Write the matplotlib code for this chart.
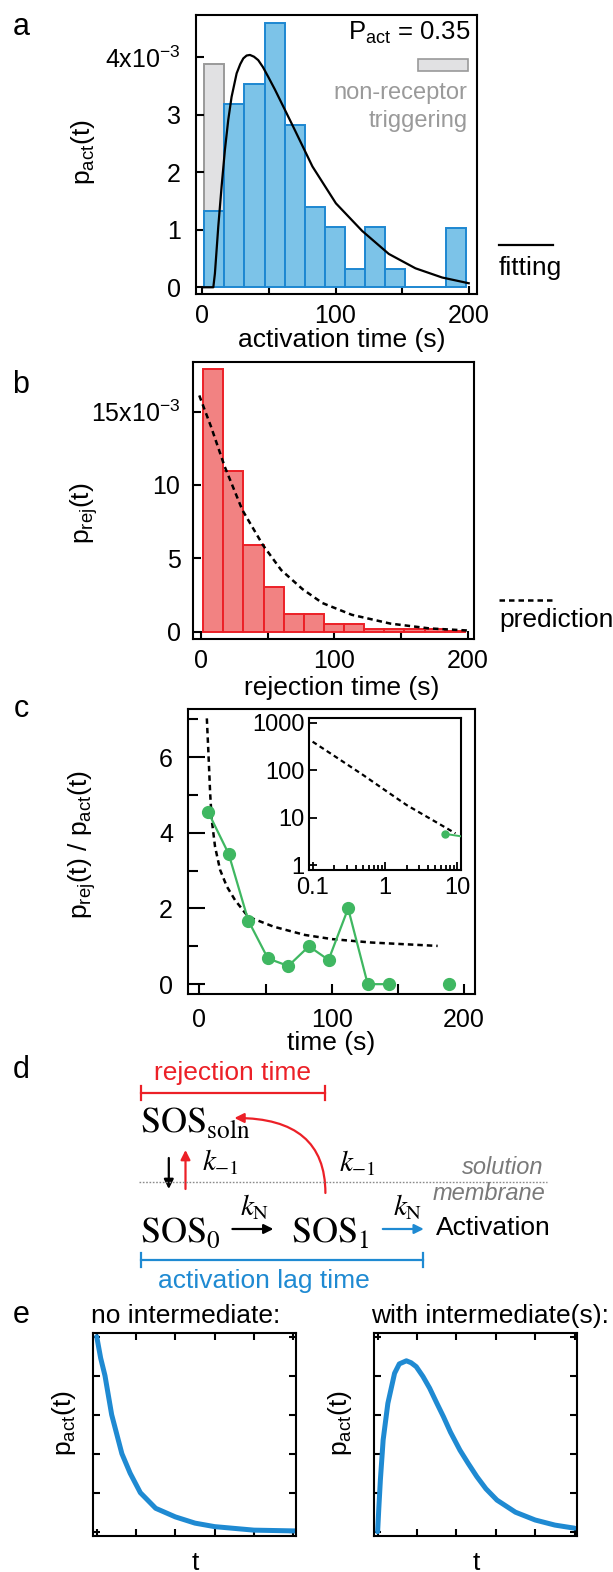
import numpy as np
import matplotlib
matplotlib.use("Agg")
import matplotlib.pyplot as plt
from matplotlib.patches import FancyArrowPatch, Rectangle
from matplotlib.ticker import FixedLocator, FixedFormatter, NullFormatter

plt.rcParams['font.family'] = ['Liberation Sans', 'DejaVu Sans']
plt.rcParams['mathtext.default'] = 'regular'
plt.rcParams['axes.linewidth'] = 1.5

W, H = 613, 1572

# ---- values ----
# a: activation lag-time histogram (x1e-3 per s) + fit
bin_edges = [1.5, 16.6, 31.7, 46.8, 61.9, 77.0, 92.1, 107.2, 122.3, 137.4, 152.5, 167.6, 182.7, 197.8]
act_hist = [1.33, 3.18, 3.53, 4.60, 2.82, 1.39, 1.04, 0.32, 1.04, 0.32, 0.0, 0.0, 1.03]
nonrec_edges = [1.5, 16.6]
nonrec_hist = [3.88]
fit_t = [0, 8.3, 9.5, 12.0, 14.5, 17.0, 19.5, 22.0, 25.8, 28.5, 30.8, 33.3, 35.8, 38.8, 42.0,
         45.5, 49.5, 54.5, 59.6, 68.3, 82.7, 100.3, 120, 140, 160, 180, 200]
fit_p = [0, 0, 0.24, 1.05, 1.75, 2.39, 2.91, 3.31, 3.72, 3.88, 3.98, 4.03, 4.04, 4.01, 3.95,
         3.83, 3.66, 3.44, 3.2, 2.79, 2.1, 1.46, 0.98, 0.58, 0.33, 0.17, 0.07]

# b: rejection time histogram (x1e-3 per s) + prediction
rej_hist = [17.9, 10.95, 5.9, 3.07, 1.23, 1.23, 0.52, 0.52, 0.18, 0.18, 0.18, 0.18, 0.03]
pred_t = [-1.5, 7.3, 17.6, 30.8, 46.3, 60, 76, 91, 113, 142, 171.5, 200]
pred_p = [16.1, 13.98, 11.25, 8.3, 5.9, 4.2, 2.9, 1.95, 1.15, 0.55, 0.22, 0.08]

# c: ratio p_rej / p_act
ratio_t = [6.8, 22.2, 37.0, 51.8, 67.2, 82.8, 97.6, 112.4, 127.2, 142.9, 157.5, 172.5, 188.8]
ratio_v = [4.54, 3.44, 1.68, 0.68, 0.48, 1.0, 0.64, 2.0, 0.0, 0.0, np.nan, np.nan, 0.0]
ratio_pred_t = [5.7, 6.9, 8.2, 9.4, 11.9, 15.7, 20.8, 27, 36.9, 56, 79.7, 100.3, 129.8, 180]
ratio_pred_v = [7.02, 6.1, 5.04, 4.34, 3.63, 3.02, 2.58, 2.22, 1.78, 1.52, 1.30, 1.19, 1.10, 1.01]
inset_t = [0.1, 0.2, 0.5, 1, 2, 5, 9.5]
inset_v = [398, 199, 79, 38, 18.4, 8.2, 4.65]

# e: schematic curves
e_t_no = [0, 0.1, 0.21, 0.38, 0.64, 0.85, 1.11, 1.5, 2.0, 2.5, 3.0, 4.0, 5.05]
e_p_no = [5.0, 4.45, 4.0, 3.0, 2.0, 1.5, 1.0, 0.6, 0.38, 0.22, 0.13, 0.04, 0.02]
e_t_with = [0, 0.03, 0.07, 0.14, 0.26, 0.43, 0.55, 0.73, 0.85, 0.98, 1.15, 1.32, 1.5, 1.67,
            1.85, 2.09, 2.3, 2.52, 2.75, 3.03, 3.5, 4.0, 4.5, 5.0]
e_p_with = [0, 0.6, 1.33, 2.35, 3.29, 4.06, 4.3, 4.38, 4.33, 4.23, 3.98, 3.68, 3.3, 2.95,
            2.55, 2.09, 1.75, 1.41, 1.1, 0.81, 0.5, 0.3, 0.17, 0.09]

# colours
blue_fill, blue_edge = '#7cc3e8', '#1d87d1'
red_fill, red_edge = '#f28282', '#ec2027'
gray_fill, gray_edge = '#e1e1e3', '#9a9a9a'
green = '#3fb761'
blue = '#1f8ad2'
red = '#ec2027'

fig = plt.figure(figsize=(W / 100, H / 100), dpi=100)


def px_axes(x0, x1, y0, y1):
    return fig.add_axes([x0 / W, 1 - y1 / H, (x1 - x0) / W, (y1 - y0) / H])


def style_ticks(ax, pad_x, pad_y, size=18):
    ax.tick_params(which='both', direction='in', width=1.5, labelsize=size)
    ax.tick_params(axis='x', pad=pad_x)
    ax.tick_params(axis='y', pad=pad_y)


# ---- panel a ----
ax_a = px_axes(196, 476.6, 14.7, 294)
ax_a.bar(nonrec_edges[:-1], nonrec_hist, width=np.diff(nonrec_edges), align='edge',
         color=gray_fill, edgecolor=gray_edge, lw=1.4, zorder=1)
ax_a.bar(bin_edges[:-1], act_hist, width=np.diff(bin_edges), align='edge',
         color=blue_fill, edgecolor=blue_edge, lw=1.4, zorder=2)
ax_a.plot(fit_t, fit_p, color='k', lw=1.6, zorder=3)
ax_a.set_xlim(-4.7, 205.9)
ax_a.set_ylim(-0.117, 4.74)
ax_a.set_yticks([0, 1, 2, 3, 4])
ax_a.set_yticklabels(['0', '1', '2', '3', '4x10$^{-3}$'])
ax_a.set_xticks([0, 100, 200])
ax_a.xaxis.set_minor_locator(FixedLocator([50, 150]))
style_ticks(ax_a, 7, 11)
ax_a.tick_params(which='both', length=6)

# ---- panel b ----
ax_b = px_axes(193, 473.8, 361.7, 639.3)
ax_b.bar(bin_edges[:-1], rej_hist, width=np.diff(bin_edges), align='edge',
         color=red_fill, edgecolor=red_edge, lw=1.4, zorder=2)
ax_b.plot(pred_t, pred_p, color='k', lw=1.8, ls=(0, (2.2, 1.6)), zorder=3)
ax_b.set_xlim(-6.2, 204.6)
ax_b.set_ylim(-0.52, 18.4)
ax_b.set_yticks([0, 5, 10, 15])
ax_b.set_yticklabels(['0', '5', '10', '15x10$^{-3}$'])
ax_b.set_xticks([0, 100, 200])
ax_b.xaxis.set_minor_locator(FixedLocator([50, 150]))
style_ticks(ax_b, 7, 9)
ax_b.tick_params(which='both', length=6)

# ---- panel c ----
ax_c = px_axes(188.3, 474.6, 709.3, 994)
ax_c.plot(ratio_pred_t, ratio_pred_v, color='k', lw=1.8, ls=(0, (2.2, 1.6)), zorder=2)
ax_c.plot(ratio_t, ratio_v, color=green, lw=1.6, marker='o', ms=8.5, zorder=3)
ax_c.set_xlim(-8.3, 207.9)
ax_c.set_ylim(-0.26, 7.26)
ax_c.set_yticks([0, 2, 4, 6])
ax_c.yaxis.set_minor_locator(FixedLocator([1, 3, 5, 7]))
ax_c.set_xticks([0, 100, 200])
ax_c.xaxis.set_minor_locator(FixedLocator([50, 150]))
style_ticks(ax_c, 10, 11)
ax_c.tick_params(axis='y', which='major', length=12)
ax_c.tick_params(axis='y', which='minor', length=7)
ax_c.tick_params(axis='x', which='both', length=7)

ax_in = px_axes(308.6, 460.9, 717.7, 870)
ax_in.set_xscale('log')
ax_in.set_yscale('log')
ax_in.plot(inset_t, inset_v, color='k', lw=1.6, ls=(0, (2.2, 1.6)), zorder=2)
ax_in.plot(ratio_t, ratio_v, color=green, lw=1.4, marker='o', ms=5, zorder=3)
ax_in.set_xlim(0.088, 11.3)
ax_in.set_ylim(0.785, 1275)
ax_in.xaxis.set_major_locator(FixedLocator([0.1, 1, 10]))
ax_in.xaxis.set_major_formatter(FixedFormatter(['0.1', '1', '10']))
ax_in.xaxis.set_minor_formatter(NullFormatter())
ax_in.yaxis.set_major_locator(FixedLocator([1, 10, 100, 1000]))
ax_in.yaxis.set_major_formatter(FixedFormatter(['1', '10', '100', '1000']))
ax_in.yaxis.set_minor_formatter(NullFormatter())
ax_in.tick_params(which='both', direction='in', width=1.3, labelsize=17)
ax_in.tick_params(which='major', length=6)
ax_in.tick_params(which='minor', length=3.5)
ax_in.tick_params(axis='x', pad=5)
ax_in.tick_params(axis='y', pad=3)

# ---- panel e ----
for (x0, x1), tt, pp in [((93.3, 296), e_t_no, e_p_no), ((374.2, 577.3), e_t_with, e_p_with)]:
    ax = px_axes(x0, x1, 1332.7, 1536)
    ax.plot(tt, pp, color=blue, lw=3.6, solid_capstyle='round', solid_joinstyle='round')
    ax.set_xlim(-0.087, 5.07)
    ax.set_ylim(-0.11, 5.1)
    ax.set_xticks([0, 1, 2, 3, 4, 5])
    ax.set_yticks([0, 1, 2, 3, 4, 5])
    ax.tick_params(direction='in', length=5, width=1.5, top=True, right=True,
                   labelbottom=False, labelleft=False)

# ---- overlay: labels, legends, scheme ----
ov = fig.add_axes([0, 0, 1, 1])
ov.set_xlim(0, W)
ov.set_ylim(H, 0)
ov.axis('off')

for lab, y in [('a', 27), ('b', 385), ('c', 709), ('d', 1070), ('e', 1315)]:
    ov.text(21, y, lab, fontsize=22, ha='center', va='center')

lab_fs = 19
ov.text(342, 340, 'activation time (s)', fontsize=lab_fs, ha='center', va='center')
ov.text(83, 152, 'p$_{act}$(t)', fontsize=lab_fs, rotation=90, ha='center', va='center')
ov.text(342, 688, 'rejection time (s)', fontsize=lab_fs, ha='center', va='center')
ov.text(84, 513, 'p$_{rej}$(t)', fontsize=lab_fs, rotation=90, ha='center', va='center')
ov.text(331, 1043, 'time (s)', fontsize=lab_fs, ha='center', va='center')
ov.text(82, 845, 'p$_{rej}$(t) / p$_{act}$(t)', fontsize=lab_fs, rotation=90,
        ha='center', va='center')

# legend-like annotations of a and b
ov.text(470.7, 33, 'P$_{act}$ = 0.35', fontsize=18.5, ha='right', va='center')
ov.add_patch(Rectangle((418, 59.3), 49.6, 11.4, facecolor=gray_fill, edgecolor=gray_edge, lw=1.2))
ov.text(467.6, 93, 'non-receptor', fontsize=17, color='#9a9a9a', ha='right', va='center')
ov.text(467.6, 121, 'triggering', fontsize=17, color='#9a9a9a', ha='right', va='center')
ov.plot([499, 553], [245, 245], color='k', lw=1.6)
ov.text(499, 268, 'fitting', fontsize=19, ha='left', va='center')
ov.plot([499, 553], [600, 600], color='k', lw=1.8, ls=(0, (2.2, 1.6)))
ov.text(499, 620, 'prediction', fontsize=19, ha='left', va='center')

# scheme d
ov.plot([141, 325], [1093, 1093], color=red, lw=1.6)
ov.plot([141, 141], [1086, 1100], color=red, lw=1.6)
ov.plot([325, 325], [1086, 1100], color=red, lw=1.6)
ov.text(232, 1073, 'rejection time', fontsize=19, color=red, ha='center', va='center')

sos_fs = 26
ov.text(140, 1132, r'$\mathrm{SOS}_{\mathrm{soln}}$', fontsize=sos_fs, math_fontfamily='stix',
        ha='left', va='baseline')
ov.text(140, 1242, r'$\mathrm{SOS}_{\mathrm{0}}$', fontsize=sos_fs, math_fontfamily='stix',
        ha='left', va='baseline')
ov.text(291, 1242, r'$\mathrm{SOS}_{\mathrm{1}}$', fontsize=sos_fs, math_fontfamily='stix',
        ha='left', va='baseline')

arr = dict(arrowstyle='-|>', mutation_scale=14, lw=1.6, shrinkA=0, shrinkB=0)
ov.add_patch(FancyArrowPatch((168.8, 1158), (168.8, 1189), color='k', **arr))
ov.add_patch(FancyArrowPatch((185.5, 1189), (185.5, 1150), color=red, **arr))
ov.add_patch(FancyArrowPatch((325.4, 1193), (234.4, 1118), color=red,
                             connectionstyle='angle3,angleA=90,angleB=0', **arr))
ov.add_patch(FancyArrowPatch((232.4, 1229), (273.4, 1229), color='k', **arr))
ov.add_patch(FancyArrowPatch((382.8, 1229), (423.8, 1229), color=blue, **arr))

k_kw = dict(fontsize=21, math_fontfamily='stix', ha='left', va='center')
ov.text(202, 1162, r'$\mathit{k}_{\mathrm{-1}}$', **k_kw)
ov.text(339, 1163, r'$\mathit{k}_{\mathrm{-1}}$', **k_kw)
ov.text(240, 1207, r'$\mathit{k}_{\mathrm{N}}$', **k_kw)
ov.text(393, 1207, r'$\mathit{k}_{\mathrm{N}}$', **k_kw)

ov.plot([139, 547], [1181.7, 1181.7], color='#8a8a8a', lw=1.0, ls=(0, (1.2, 1.2)))
ov.text(543, 1168, 'solution', fontsize=17, style='italic', color='#7a7a7a', ha='right', va='center')
ov.text(545, 1194, 'membrane', fontsize=17, style='italic', color='#7a7a7a', ha='right', va='center')
ov.text(435.5, 1228, 'Activation', fontsize=19, ha='left', va='center')

ov.plot([141, 423], [1260, 1260], color=blue, lw=1.6)
ov.plot([141, 141], [1253, 1267], color=blue, lw=1.6)
ov.plot([423, 423], [1253, 1267], color=blue, lw=1.6)
ov.text(264, 1281, 'activation lag time', fontsize=19, color=blue, ha='center', va='center')

# panel e texts
ov.text(90.6, 1316, 'no intermediate:', fontsize=19, ha='left', va='center')
ov.text(371, 1316, 'with intermediate(s):', fontsize=19, ha='left', va='center')
ov.text(64.5, 1423, 'p$_{act}$(t)', fontsize=lab_fs, rotation=90, ha='center', va='center')
ov.text(340, 1423, 'p$_{act}$(t)', fontsize=lab_fs, rotation=90, ha='center', va='center')
ov.text(195, 1563, 't', fontsize=lab_fs, ha='center', va='center')
ov.text(476, 1563, 't', fontsize=lab_fs, ha='center', va='center')

fig.savefig('out.png', dpi=100)
